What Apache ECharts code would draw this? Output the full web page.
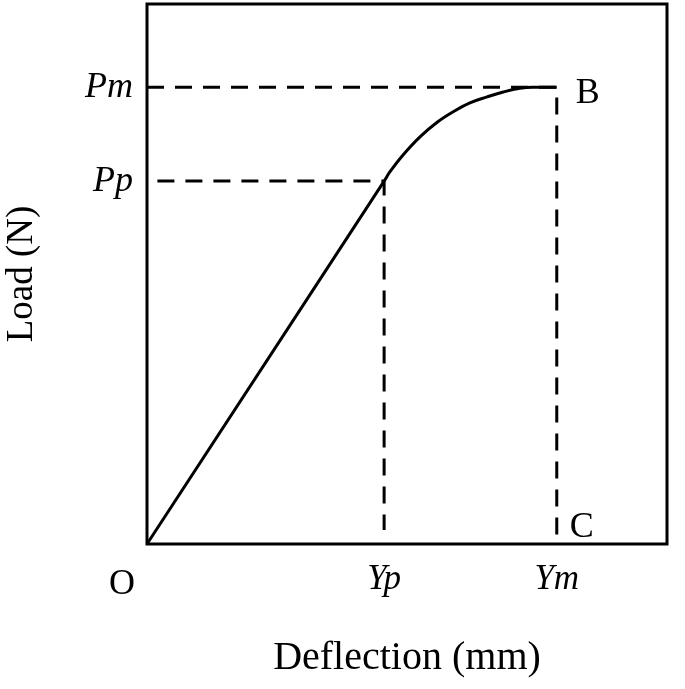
<!DOCTYPE html>
<html lang="en">
<head>
    <meta charset="UTF-8">
    <title>Load - Deflection</title>
    <script src="https://cdn.jsdelivr.net/npm/echarts@6/dist/echarts.min.js"></script>
    <style>
        html, body { margin: 0; padding: 0; background: #fff; }
    </style>
</head>
<body>
    <div id="chart" style="width: 685px; height: 689px;"></div>
    <script>
        // load-deflection curve, axis units 0..100 across the frame
        const curveX = [0, 45.6, 46.7, 49.2, 52.5, 55.8, 58.8, 62.1, 65.4, 68.5, 71.7, 74.2, 78.8];
        const curveY = [0, 67.2, 68.9, 72.0, 75.4, 78.1, 80.0, 81.7, 82.8, 83.7, 84.4, 84.6, 84.6];

        // characteristic points
        const Yp = 45.6, Ym = 78.8;
        const Pp = 67.2, Pm = 84.6;
        const xTickValues = [Yp, Ym];
        const xTickNames = ['Yp', 'Ym'];
        const yTickValues = [Pp, Pm];
        const yTickNames = ['Pp', 'Pm'];

        const pointNames = ['O', 'B', 'C'];
        const pointX = [0, Ym, Ym];
        const pointY = [0, Pm, 0];

        const serif = '"Liberation Serif", "DejaVu Serif", serif';
        const dash = [17, 11];

        const chart = echarts.init(document.getElementById('chart'));

        const curve = curveX.map((x, i) => [x, curveY[i]]);
        const points = pointNames.map((n, i) => [pointX[i], pointY[i], n]);

        const labelPos = {
            O: { position: 'bottom', offset: [-25, 18] },
            B: { position: 'right', offset: [14, 6] },
            C: { position: 'right', offset: [8, -16] }
        };

        const option = {
            animation: false,
            grid: {
                left: 147, top: 4, width: 520, height: 540,
                outerBoundsMode: 'none', containLabel: false,
                show: true, borderColor: '#000', borderWidth: 3
            },
            xAxis: {
                type: 'value', min: 0, max: 100,
                name: 'Deflection (mm)', nameLocation: 'middle', nameGap: 94,
                nameTextStyle: { fontFamily: serif, fontSize: 40, color: '#000' },
                axisLine: { show: false }, axisTick: { show: false }, splitLine: { show: false },
                axisLabel: {
                    customValues: xTickValues,
                    formatter: v => xTickNames[xTickValues.indexOf(v)] || '',
                    fontFamily: serif, fontStyle: 'italic', fontSize: 35, color: '#000', margin: 18
                }
            },
            yAxis: {
                type: 'value', min: 0, max: 100,
                name: 'Load (N)', nameLocation: 'middle', nameGap: 106,
                nameTextStyle: { fontFamily: serif, fontSize: 37, color: '#000' },
                axisLine: { show: false }, axisTick: { show: false }, splitLine: { show: false },
                axisLabel: {
                    customValues: yTickValues,
                    formatter: v => yTickNames[yTickValues.indexOf(v)] || '',
                    fontFamily: serif, fontStyle: 'italic', fontSize: 36, color: '#000', margin: 14
                }
            },
            series: [
                {
                    type: 'line', data: curve, symbol: 'none', smooth: 0.4,
                    lineStyle: { color: '#000', width: 3 }, z: 5
                },
                {
                    type: 'line', data: [[0, Pm], [Ym, Pm], [Ym, 0]], symbol: 'none',
                    lineStyle: { color: '#000', width: 3, type: dash }
                },
                {
                    type: 'line', data: [[2, Pp], [Yp, Pp], [Yp, 2.6]], symbol: 'none',
                    lineStyle: { color: '#000', width: 3, type: dash }
                },
                {
                    type: 'scatter', symbolSize: 0, clip: false,
                    itemStyle: { opacity: 1, color: '#000' },
                    data: points.map(p => ({
                        value: p,
                        label: labelPos[p[2]]
                    })),
                    label: {
                        show: true, formatter: p => p.value[2],
                        fontFamily: serif, fontSize: 36, color: '#000', opacity: 1
                    },
                    emphasis: { disabled: true }
                }
            ]
        };

        chart.setOption(option);
    </script>
</body>
</html>
